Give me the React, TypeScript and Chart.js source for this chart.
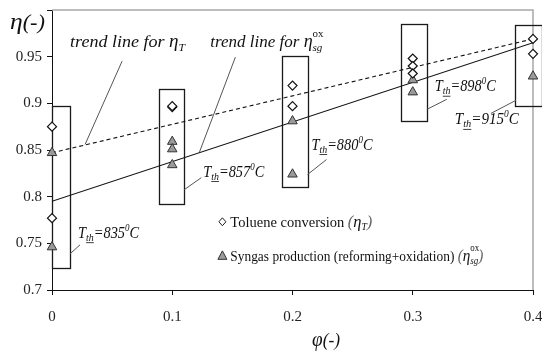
import React, { useEffect, useRef } from 'react';
import { Chart, registerables } from 'chart.js';

Chart.register(...registerables);

// ---------------- data ----------------
const xTickLabels = ['0', '0.1', '0.2', '0.3', '0.4'];
const yTickLabels = ['0.7', '0.75', '0.8', '0.85', '0.9', '0.95', ''];

// Toluene conversion (eta_T)
const tolueneX = [0, 0, 0.1, 0.1, 0.2, 0.2, 0.3, 0.3, 0.3, 0.4, 0.4];
const tolueneY = [0.875, 0.777, 0.896, 0.897, 0.919, 0.897, 0.948, 0.94, 0.932, 0.969, 0.953];

// Syngas production (reforming+oxidation) (eta_sg^ox)
const syngasX = [0, 0, 0.1, 0.1, 0.1, 0.2, 0.2, 0.3, 0.3, 0.4];
const syngasY = [0.847, 0.746, 0.859, 0.851, 0.834, 0.881, 0.824, 0.925, 0.912, 0.929];

// trend lines (end points)
const trendX = [0, 0.4];
const trendTolueneY = [0.847, 0.969];
const trendSyngasY = [0.795, 0.965];

// boxes around each group (data units)
const boxXMin = [0, 0.089, 0.191, 0.29, 0.385];
const boxXMax = [0.015, 0.11, 0.2125, 0.3117, 0.4075];
const boxYMin = [0.724, 0.7925, 0.81, 0.881, 0.897];
const boxYMax = [0.897, 0.915, 0.951, 0.985, 0.984];

// T_th labels
const tempLabels = ['835', '857', '880', '898', '915'];

// ---------------- annotation layout (data units) ----------------
const tempText = [
  { x: 0.0217, y: 0.7559 },
  { x: 0.1258, y: 0.8215 },
  { x: 0.2158, y: 0.8505 },
  { x: 0.3183, y: 0.9129 },
  { x: 0.335, y: 0.8774 },
];
const tempLeader = [
  [0.015, 0.7387, 0.0233, 0.7484],
  [0.11, 0.8075, 0.1242, 0.8204],
  [0.2125, 0.8237, 0.2283, 0.8398],
  [0.3117, 0.8935, 0.3283, 0.9043],
  [0.3858, 0.9032, 0.365, 0.8892],
];

const SERIF = "'Liberation Serif', 'Times New Roman', serif";

type Part = {
  t: string;
  size: number;
  italic?: boolean;
  dy?: number;
  underline?: boolean;
  hold?: boolean;
  color?: string;
};

function fontOf(p: Part) {
  return `${p.italic ? 'italic ' : ''}${p.size}px ${SERIF}`;
}

function richWidth(ctx: CanvasRenderingContext2D, parts: Part[]) {
  let w = 0;
  for (const p of parts) {
    ctx.font = fontOf(p);
    if (!p.hold) w += ctx.measureText(p.t).width;
  }
  return w;
}

function drawRich(
  ctx: CanvasRenderingContext2D,
  parts: Part[],
  x: number,
  baseline: number,
  targetW?: number
) {
  const nat = richWidth(ctx, parts);
  const s = targetW ? targetW / nat : 1;
  ctx.save();
  ctx.translate(x, baseline);
  ctx.scale(s, 1);
  ctx.textBaseline = 'alphabetic';
  ctx.textAlign = 'left';
  let cx = 0;
  for (const p of parts) {
    ctx.font = fontOf(p);
    ctx.fillStyle = p.color || '#111';
    const dy = p.dy || 0;
    ctx.fillText(p.t, cx, dy);
    const w = ctx.measureText(p.t).width;
    if (p.underline) ctx.fillRect(cx, dy + 1.5, w, 0.8);
    if (!p.hold) cx += w;
  }
  ctx.restore();
}

function tempParts(v: string): Part[] {
  return [
    { t: 'T', size: 16, italic: true },
    { t: 'th', size: 11, italic: true, dy: 3, underline: true },
    { t: '=' + v, size: 16, italic: true },
    { t: '0', size: 10, italic: true, dy: -7 },
    { t: 'C', size: 16, italic: true },
  ];
}

const annotationPlugin = {
  id: 'annotations',
  beforeDatasetsDraw(chart: any) {
    const { ctx, chartArea, scales } = chart;
    const xs = scales.x;
    const ys = scales.y;
    ctx.save();
    // top / right frame in grey
    ctx.strokeStyle = '#a8a8a8';
    ctx.lineWidth = 1.5;
    ctx.beginPath();
    ctx.moveTo(chartArea.left, chartArea.top);
    ctx.lineTo(chartArea.right, chartArea.top);
    ctx.lineTo(chartArea.right, chartArea.bottom);
    ctx.stroke();
    // boxes
    ctx.strokeStyle = '#1a1a1a';
    ctx.lineWidth = 1.3;
    for (let i = 0; i < boxXMin.length; i++) {
      const x0 = Math.round(xs.getPixelForValue(boxXMin[i])) + 0.5;
      const x1 = Math.round(xs.getPixelForValue(boxXMax[i])) + 0.5;
      const y0 = Math.round(ys.getPixelForValue(boxYMax[i])) + 0.5;
      const y1 = Math.round(ys.getPixelForValue(boxYMin[i])) + 0.5;
      ctx.strokeRect(x0, y0, x1 - x0, y1 - y0);
    }
    // leader lines
    ctx.strokeStyle = '#555';
    ctx.lineWidth = 1;
    const lines = [
      ...tempLeader,
      [0.0583, 0.9452, 0.0275, 0.8559],
      [0.1525, 0.9495, 0.1225, 0.8473],
    ];
    for (const l of lines) {
      ctx.beginPath();
      ctx.moveTo(xs.getPixelForValue(l[0]), ys.getPixelForValue(l[1]));
      ctx.lineTo(xs.getPixelForValue(l[2]), ys.getPixelForValue(l[3]));
      ctx.stroke();
    }
    ctx.restore();
  },
  afterDatasetsDraw(chart: any) {
    const { ctx, scales } = chart;
    const xs = scales.x;
    const ys = scales.y;
    const px = (v: number) => xs.getPixelForValue(v);
    const py = (v: number) => ys.getPixelForValue(v);

    // temperature labels
    tempLabels.forEach((v, i) => {
      drawRich(ctx, tempParts(v), px(tempText[i].x), py(tempText[i].y), i === 4 ? 64 : 61);
    });

    // trend line labels
    drawRich(
      ctx,
      [
        { t: 'trend line for ', size: 17, italic: true },
        { t: 'η', size: 18, italic: true },
        { t: 'T', size: 11, italic: true, dy: 4 },
      ],
      px(0.015),
      py(0.9602),
      115
    );
    drawRich(
      ctx,
      [
        { t: 'trend line for ', size: 17, italic: true },
        { t: 'η', size: 18, italic: true },
        { t: 'ox', size: 11, dy: -10, hold: true },
        { t: 'sg', size: 11, italic: true, dy: 4 },
      ],
      px(0.1317),
      py(0.9602),
      112
    );

    // legend
    ctx.save();
    const dx = px(0.1417);
    const d1 = py(0.7731);
    ctx.strokeStyle = '#222';
    ctx.fillStyle = '#fff';
    ctx.lineWidth = 1;
    ctx.beginPath();
    ctx.moveTo(dx, d1 - 4);
    ctx.lineTo(dx + 3.5, d1);
    ctx.lineTo(dx, d1 + 4);
    ctx.lineTo(dx - 3.5, d1);
    ctx.closePath();
    ctx.fill();
    ctx.stroke();
    const d2 = py(0.7366);
    ctx.fillStyle = '#9a9a9a';
    ctx.strokeStyle = '#333';
    ctx.beginPath();
    ctx.moveTo(dx, d2 - 5);
    ctx.lineTo(dx + 4.5, d2 + 3.5);
    ctx.lineTo(dx - 4.5, d2 + 3.5);
    ctx.closePath();
    ctx.fill();
    ctx.stroke();
    ctx.restore();

    drawRich(
      ctx,
      [
        { t: 'Toluene conversion ', size: 15 },
        { t: '(', size: 17, italic: true, color: '#666' },
        { t: 'η', size: 17, italic: true },
        { t: 'T', size: 10, italic: true, dy: 3 },
        { t: ')', size: 17, italic: true, color: '#666' },
      ],
      px(0.1483),
      py(0.7677),
      142
    );
    drawRich(
      ctx,
      [
        { t: 'Syngas production (reforming+oxidation) ', size: 15 },
        { t: '(', size: 17, italic: true, color: '#666' },
        { t: 'η', size: 17, italic: true },
        { t: 'ox', size: 10, dy: -10, hold: true },
        { t: 'sg', size: 10, italic: true, dy: 3 },
        { t: ')', size: 17, italic: true, color: '#666' },
      ],
      px(0.1483),
      py(0.7312),
      253
    );

    // axis titles
    drawRich(
      ctx,
      [
        { t: 'η', size: 24, italic: true },
        { t: '(-)', size: 21, italic: true },
      ],
      10,
      29,
      35
    );
    drawRich(
      ctx,
      [
        { t: 'φ', size: 21, italic: true },
        { t: '(-)', size: 19, italic: true },
      ],
      312,
      346,
      28
    );
  },
};

export default function App() {
  const ref = useRef<HTMLCanvasElement | null>(null);

  useEffect(() => {
    if (!ref.current) return;
    const chart = new Chart(ref.current, {
      type: 'scatter',
      data: {
        datasets: [
          {
            label: 'Toluene conversion',
            data: tolueneX.map((x, i) => ({ x, y: tolueneY[i] })),
            pointStyle: 'rectRot',
            pointRadius: 4.5,
            backgroundColor: '#ffffff',
            borderColor: '#111111',
            borderWidth: 1.2,
            order: 0,
            clip: false,
          } as any,
          {
            label: 'Syngas production',
            data: syngasX.map((x, i) => ({ x, y: syngasY[i] })),
            pointStyle: 'triangle',
            pointRadius: 5.5,
            backgroundColor: '#9a9a9a',
            borderColor: '#333333',
            borderWidth: 1,
            order: 1,
            clip: false,
          } as any,
          {
            label: 'trend eta_T',
            data: trendX.map((x, i) => ({ x, y: trendTolueneY[i] })),
            showLine: true,
            pointRadius: 0,
            borderColor: '#111111',
            borderWidth: 1.1,
            borderDash: [4, 3],
            order: 2,
          } as any,
          {
            label: 'trend eta_sg',
            data: trendX.map((x, i) => ({ x, y: trendSyngasY[i] })),
            showLine: true,
            pointRadius: 0,
            borderColor: '#111111',
            borderWidth: 1.1,
            order: 3,
          } as any,
        ],
      },
      options: {
        responsive: false,
        animation: false,
        layout: { padding: { left: 0, right: 9, top: 10, bottom: 0 } },
        plugins: {
          legend: { display: false },
          tooltip: { enabled: false },
          title: { display: false },
        },
        scales: {
          x: {
            type: 'linear',
            min: 0,
            max: 0.4,
            afterFit: (s: any) => {
              s.height = 62;
              s.paddingLeft = 0;
              s.paddingRight = 0;
            },
            ticks: {
              stepSize: 0.1,
              padding: 13,
              color: '#222',
              font: { family: SERIF, size: 15 },
              callback: (_v: any, i: number) => xTickLabels[i],
            },
            grid: {
              drawOnChartArea: false,
              tickLength: 5,
              color: '#111',
            },
            border: { color: '#111', width: 1 },
          },
          y: {
            type: 'linear',
            min: 0.7,
            max: 1.0,
            afterFit: (s: any) => {
              s.width = 52;
              s.paddingTop = 0;
              s.paddingBottom = 0;
            },
            ticks: {
              stepSize: 0.05,
              padding: 5,
              color: '#222',
              font: { family: SERIF, size: 15 },
              callback: (_v: any, i: number) => yTickLabels[i],
            },
            grid: {
              drawOnChartArea: false,
              tickLength: 5,
              color: '#111',
            },
            border: { color: '#111', width: 1 },
          },
        },
      } as any,
      plugins: [annotationPlugin],
    });
    return () => chart.destroy();
  }, []);

  return (
    <div style={{ position: 'absolute', left: 0, top: 0, width: 542, height: 352, background: '#fff' }}>
      <canvas ref={ref} width={542} height={352} style={{ display: 'block' }} />
    </div>
  );
}
